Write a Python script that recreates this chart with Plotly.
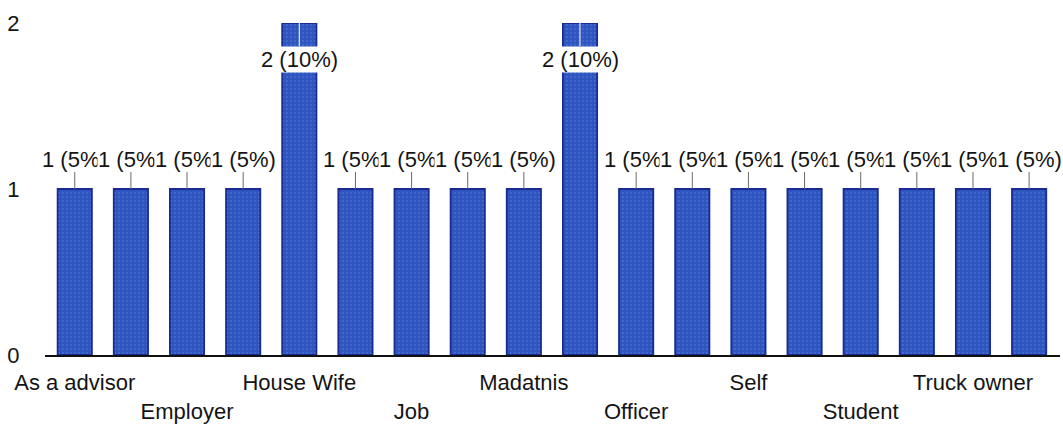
import plotly.graph_objects as go

# Respondent occupation counts (one bar per occupation, alphabetical order)
bar_index = list(range(18))
counts = [1, 1, 1, 1, 2, 1, 1, 1, 1, 2, 1, 1, 1, 1, 1, 1, 1, 1]

# Axis labels that fit under every other bar
label_index = [0, 2, 4, 6, 8, 10, 12, 14, 16]
label_names = ["As a advisor", "Employer", "House Wife", "Job", "Madatnis",
               "Officer", "Self", "Student", "Truck owner"]

y_ticks = [0, 1, 2]

total = sum(counts)
value_text = [f"{c} ({c / total * 100:.0f}%)" for c in counts]
y_max = max(y_ticks)

FONT = "Liberation Sans, Arial, sans-serif"
TEXT = "#141414"

fig = go.Figure(
    go.Bar(
        x=bar_index,
        y=counts,
        marker=dict(
            color="#2f55c1",
            line=dict(color="#1a2a92", width=1.8),
            pattern=dict(shape=".", fgcolor="#7aa6ea", fgopacity=0.3,
                         size=4, solidity=0.2),
        ),
        hoverinfo="skip",
    )
)

# Value labels with a short leader line; labels for bars at the top of
# the axis are placed inside the bar instead of above it.
annotations = []
for xi, c, t in zip(bar_index, counts, value_text):
    inside = c >= y_max
    annotations.append(dict(
        x=xi, y=c, xref="x", yref="y",
        text=t, showarrow=True, arrowhead=0, arrowwidth=1,
        arrowcolor="#ffffff" if inside else "#6a6a6a",
        ax=0, ay=36 if inside else -30,
        bgcolor="#ffffff", borderpad=0,
        font=dict(family=FONT, size=22, color=TEXT),
    ))

tick_text = [name if k % 2 == 0 else "<br>" + name
             for k, name in enumerate(label_names)]

fig.update_layout(
    width=1063, height=428,
    margin=dict(l=45, r=3, t=23, b=73),
    paper_bgcolor="#ffffff", plot_bgcolor="#ffffff",
    bargap=0.39,
    showlegend=False,
    annotations=annotations,
    font=dict(family=FONT, size=22, color=TEXT),
    xaxis=dict(
        range=[-0.53, 17.55],
        tickvals=label_index, ticktext=tick_text,
        showline=True, linecolor="#111111", linewidth=2,
        showgrid=False, zeroline=False,
        ticks="outside", ticklen=7, tickcolor="rgba(0,0,0,0)",
        tickangle=0,
        tickfont=dict(family=FONT, size=22, color=TEXT),
    ),
    yaxis=dict(
        range=[0, y_max],
        tickvals=y_ticks,
        showline=False, showgrid=False, zeroline=False,
        ticks="outside", ticklen=20, tickcolor="rgba(0,0,0,0)",
        tickfont=dict(family=FONT, size=22, color=TEXT),
    ),
)

fig.write_html("out.html")
